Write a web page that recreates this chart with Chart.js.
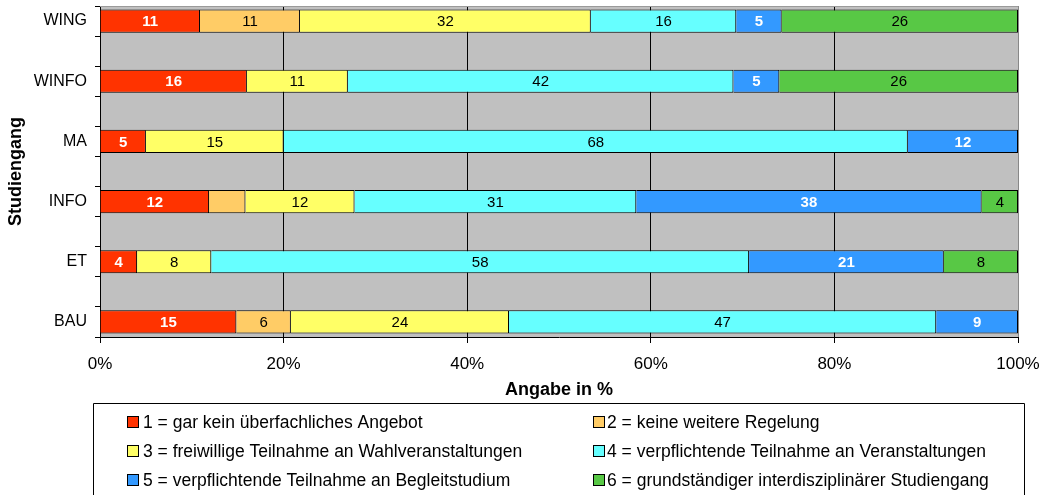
<!DOCTYPE html>
<html>
<head>
<meta charset="utf-8">
<script src="https://cdn.jsdelivr.net/npm/chart.js@4.4.1/dist/chart.umd.min.js"></script>
<style>
  html, body { margin: 0; padding: 0; background: #ffffff; }
  #wrap { position: relative; width: 1045px; height: 495px; }
</style>
</head>
<body>
<div id="wrap"><canvas id="chart" width="1045" height="495"></canvas></div>
<script>
// Studiengänge (top to bottom)
const programmes = ['WING', 'WINFO', 'MA', 'INFO', 'ET', 'BAU'];

// Series names and colours
const seriesNames = [
  '1 = gar kein überfachliches Angebot',
  '2 = keine weitere Regelung',
  '3 = freiwillige Teilnahme an Wahlveranstaltungen',
  '4 = verpflichtende Teilnahme an Veranstaltungen',
  '5 = verpflichtende Teilnahme an Begleitstudium',
  '6 = grundständiger interdisziplinärer Studiengang'
];
const seriesColors = ['#FF3300', '#FFCC66', '#FFFF66', '#66FFFF', '#3399FF', '#58C845'];
const valueLabelColors = ['#FFFFFF', '#000000', '#000000', '#000000', '#FFFFFF', '#000000'];
const valueLabelBold = [true, false, false, false, true, false];

// Angaben in % per Studiengang, one array per answer category
const garKein        = [11, 16,  5, 12,  4, 15];
const keineRegelung  = [11, null, null, 4, null, 6];
const freiwillig     = [32, 11, 15, 12,  8, 24];
const pflichtVeranst = [16, 42, 68, 31, 58, 47];
const begleitstudium = [ 5,  5, 12, 38, 21,  9];
const grundstaendig  = [26, 26, null, 4,  8, null];

// segments printed without a value label ("series:programme")
const unlabelled = ['1:INFO'];

const xTickLabels = ['0%', '20%', '40%', '60%', '80%', '100%'];

const seriesValues = [garKein, keineRegelung, freiwillig, pflichtVeranst, begleitstudium, grundstaendig];

// row totals for the 100 % stacking
const totals = programmes.map((p, i) =>
  seriesValues.reduce((s, arr) => s + (arr[i] == null ? 0 : arr[i]), 0));

// category rows: each programme followed by an empty spacer row
const rowLabels = [];
const rowIndex = [];
programmes.forEach((p, i) => {
  if (i > 0) { rowLabels.push(''); rowIndex.push(null); }
  rowLabels.push(p); rowIndex.push(i);
});

const datasets = seriesValues.map((arr, s) => ({
  label: seriesNames[s],
  backgroundColor: seriesColors[s],
  borderColor: '#000000',
  borderWidth: 1,
  borderSkipped: 'start',
  rawValues: rowIndex.map(i => (i == null ? null : arr[i])),
  data: rowIndex.map(i => (i == null || arr[i] == null) ? null : arr[i] / totals[i] * 100)
}));

const FONT = '"Liberation Sans", Arial, sans-serif';

// grey plot background plus top border line
const plotFrame = {
  id: 'plotFrame',
  beforeDraw(chart) {
    const a = chart.chartArea, c = chart.ctx;
    c.save();
    c.fillStyle = '#C0C0C0';
    c.fillRect(a.left, a.top, a.right - a.left, a.bottom - a.top);
    c.restore();
  },
  beforeDatasetsDraw(chart) {
    const a = chart.chartArea, c = chart.ctx;
    c.save();
    c.strokeStyle = '#9A9A9A';
    c.lineWidth = 1;
    c.beginPath();
    c.moveTo(a.left, Math.round(a.top) + 0.5);
    c.lineTo(a.right, Math.round(a.top) + 0.5);
    c.stroke();
    c.restore();
  }
};

// value labels centred in each segment
const segmentLabels = {
  id: 'segmentLabels',
  afterDatasetsDraw(chart) {
    const c = chart.ctx;
    c.save();
    c.textAlign = 'center';
    c.textBaseline = 'middle';
    chart.data.datasets.forEach((ds, s) => {
      const meta = chart.getDatasetMeta(s);
      meta.data.forEach((bar, r) => {
        const v = ds.rawValues[r];
        if (v == null) return;
        if (unlabelled.includes(s + ':' + rowLabels[r])) return;
        c.font = (valueLabelBold[s] ? 'bold ' : '') + '15px ' + FONT;
        c.fillStyle = valueLabelColors[s];
        c.fillText(String(v), (bar.x + bar.base) / 2, bar.y + 1);
      });
    });
    c.restore();
  }
};

// framed two-column legend below the chart
const boxLegend = {
  id: 'boxLegend',
  afterDraw(chart) {
    const c = chart.ctx;
    c.save();
    c.strokeStyle = '#000000';
    c.lineWidth = 1;
    c.beginPath();
    c.moveTo(93.5, 500);
    c.lineTo(93.5, 403.5);
    c.lineTo(1024.5, 403.5);
    c.lineTo(1024.5, 500);
    c.stroke();
    const colBox = [127, 593];
    const colText = [143, 607];
    c.font = '17.5px ' + FONT;
    c.textBaseline = 'middle';
    c.textAlign = 'left';
    chart.data.datasets.forEach((ds, i) => {
      const col = i % 2, row = Math.floor(i / 2);
      const y = 422 + row * 29;
      c.fillStyle = ds.backgroundColor;
      c.fillRect(colBox[col], y - 6, 12, 12);
      c.strokeStyle = '#000000';
      c.strokeRect(colBox[col] + 0.5, y - 5.5, 11, 11);
      c.fillStyle = '#000000';
      c.fillText(ds.label, colText[col], y + 1);
    });
    c.restore();
  }
};

new Chart(document.getElementById('chart'), {
  type: 'bar',
  data: { labels: rowLabels, datasets },
  plugins: [plotFrame, segmentLabels, boxLegend],
  options: {
    indexAxis: 'y',
    responsive: false,
    animation: false,
    events: [],
    layout: { padding: { left: 0, right: 27, top: 6, bottom: 92 } },
    datasets: { bar: { barPercentage: 0.77, categoryPercentage: 1.0 } },
    plugins: { legend: { display: false }, tooltip: { enabled: false } },
    scales: {
      x: {
        stacked: true,
        min: 0,
        max: 100,
        ticks: {
          stepSize: 20,
          color: '#000000',
          font: { family: FONT, size: 17 },
          padding: 11,
          maxRotation: 0,
          callback: (v, idx) => xTickLabels[idx]
        },
        grid: {
          color: ctx => (ctx.tick && ctx.tick.value === 100) ? '#888888' : '#000000',
          tickColor: '#000000',
          tickLength: 6,
          lineWidth: 1
        },
        border: { display: true, color: '#000000', width: 1 },
        title: {
          display: true,
          text: 'Angabe in %',
          color: '#000000',
          font: { family: FONT, size: 18, weight: 'bold' },
          padding: { top: 0, bottom: 2 }
        },
        afterFit(scale) {
          scale.height = 66;
          scale.paddingLeft = 0;
          scale.paddingRight = 0;
        }
      },
      y: {
        stacked: true,
        ticks: {
          autoSkip: false,
          color: '#000000',
          font: { family: FONT, size: 16 },
          padding: 8
        },
        grid: {
          offset: true,
          drawOnChartArea: false,
          tickColor: '#000000',
          tickLength: 5
        },
        border: { display: true, color: '#000000', width: 1 },
        title: {
          display: true,
          text: 'Studiengang',
          color: '#000000',
          font: { family: FONT, size: 18, weight: 'bold' },
          padding: { top: 5, bottom: 0 }
        },
        afterFit(scale) {
          scale.width = 100;
          scale.paddingTop = 0;
          scale.paddingBottom = 0;
        }
      }
    }
  }
});
</script>
</body>
</html>
